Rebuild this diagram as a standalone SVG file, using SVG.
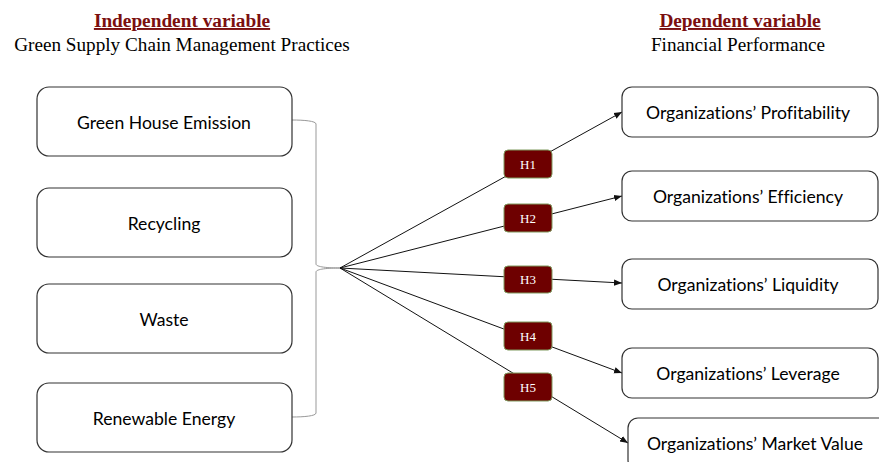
<svg xmlns="http://www.w3.org/2000/svg" width="879" height="462" viewBox="0 0 879 462">
<defs>
<style>
.hd{font-family:"Liberation Serif",serif;font-size:19.3px;font-weight:bold;fill:#7B0F0F;text-decoration:underline;text-anchor:middle}
.sub{font-family:"Liberation Serif",serif;font-size:19.2px;fill:#000;text-anchor:middle}
.box{fill:#fff;stroke:#333;stroke-width:1.2}
.bt{font-family:Lato,"Open Sans",sans-serif;font-size:17.6px;fill:#000;text-anchor:middle;dominant-baseline:central;font-variant-ligatures:none}
.hb{fill:#6E0000;stroke:#7E9A5E;stroke-width:1}
.ht{font-family:"Liberation Serif",serif;font-size:13px;fill:#fff;text-anchor:middle;dominant-baseline:central}
.ln{stroke:#111;stroke-width:1;fill:none;marker-end:url(#ah)}
</style>
<marker id="ah" viewBox="0 0 10 10" refX="10" refY="5" markerWidth="8" markerHeight="8" markerUnits="userSpaceOnUse" orient="auto">
<path d="M0,1 L10,5 L0,9 z" fill="#111"/>
</marker>
</defs>
<rect width="879" height="462" fill="#fff"/>
<g id="headings">
<text class="hd" x="182" y="27">Independent variable</text>
<text class="sub" x="182" y="51">Green Supply Chain Management Practices</text>
<text class="hd" x="740" y="27">Dependent variable</text>
<text class="sub" x="738" y="51">Financial Performance</text>
</g>
<g id="connectors">
<path d="M292,120 C304,120 316,121 316,124 L316,264 C316,267 328,268 340,268 C328,268 316,269 316,272 L316,413 C316,416 304,417 292,417" fill="none" stroke="#999" stroke-width="1"/>
<line class="ln" x1="340" y1="268" x2="622" y2="112"/>
<line class="ln" x1="340" y1="268" x2="622" y2="196"/>
<line class="ln" x1="340" y1="268" x2="622" y2="283"/>
<line class="ln" x1="340" y1="268" x2="622" y2="373"/>
<line class="ln" x1="340" y1="268" x2="628" y2="443"/>
</g>
<g id="ghe"><rect class="box" x="37" y="87" width="255" height="69" rx="12"/><text class="bt" x="164" y="122">Green House Emission</text></g>
<g id="recycling"><rect class="box" x="37" y="188" width="255" height="69" rx="12"/><text class="bt" x="164" y="223">Recycling</text></g>
<g id="waste"><rect class="box" x="37" y="284" width="255" height="69" rx="12"/><text class="bt" x="164" y="319">Waste</text></g>
<g id="renewable"><rect class="box" x="37" y="383" width="255" height="69" rx="12"/><text class="bt" x="164" y="418">Renewable Energy</text></g>
<g id="h1"><rect class="hb" x="504" y="150" width="48" height="28" rx="4"/><text class="ht" x="528" y="164">H1</text></g>
<g id="h2"><rect class="hb" x="504" y="204" width="48" height="28" rx="4"/><text class="ht" x="528" y="218">H2</text></g>
<g id="h3"><rect class="hb" x="504" y="266" width="48" height="27" rx="4"/><text class="ht" x="528" y="279.5">H3</text></g>
<g id="h4"><rect class="hb" x="504" y="322" width="48" height="28" rx="4"/><text class="ht" x="528" y="336">H4</text></g>
<g id="h5"><rect class="hb" x="504" y="373" width="48" height="28" rx="4"/><text class="ht" x="528" y="387">H5</text></g>
<g id="profitability"><rect class="box" x="622" y="87" width="256" height="50" rx="10"/><text class="bt" x="748" y="112">Organizations’ Profitability</text></g>
<g id="efficiency"><rect class="box" x="622" y="171" width="256" height="50" rx="10"/><text class="bt" x="748" y="196">Organizations’ Efficiency</text></g>
<g id="liquidity"><rect class="box" x="622" y="259" width="256" height="50" rx="10"/><text class="bt" x="748" y="284">Organizations’ Liquidity</text></g>
<g id="leverage"><rect class="box" x="622" y="348" width="256" height="50" rx="10"/><text class="bt" x="748" y="373">Organizations’ Leverage</text></g>
<g id="marketvalue"><rect class="box" x="628" y="418" width="262" height="52" rx="10"/><text class="bt" x="755" y="443">Organizations’ Market Value</text></g>
</svg>
